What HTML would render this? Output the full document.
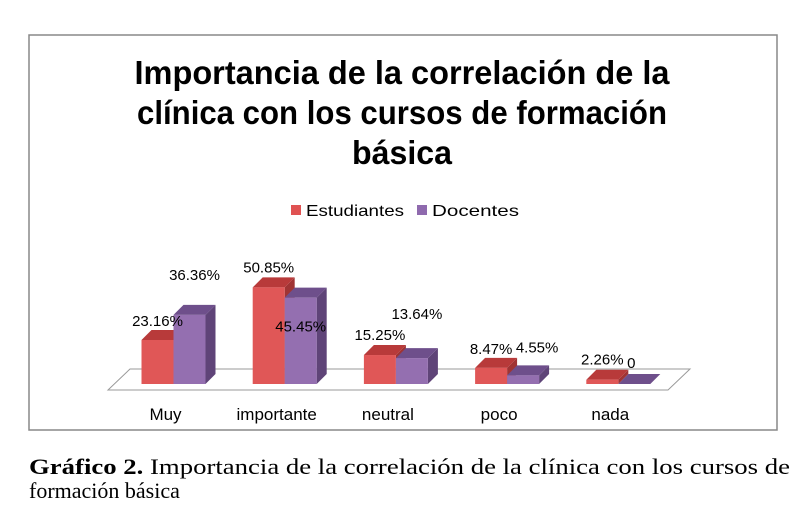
<!DOCTYPE html>
<html><head><meta charset="utf-8"><style>
body{margin:0;background:#fff;width:800px;height:518px;overflow:hidden}
svg{display:block}
</style></head><body>
<svg width="800" height="518" xmlns="http://www.w3.org/2000/svg">
<rect x="29" y="35" width="748" height="395" fill="#fff" stroke="#888" stroke-width="1.5"/>
<g font-family="Liberation Sans, sans-serif" font-weight="bold" font-size="33" fill="#000" text-anchor="middle">
<text x="402" y="84" textLength="535" lengthAdjust="spacingAndGlyphs">Importancia de la correlación de la</text>
<text x="402" y="124" textLength="530" lengthAdjust="spacingAndGlyphs">clínica con los cursos de formación</text>
<text x="402" y="164" textLength="100" lengthAdjust="spacingAndGlyphs">básica</text>
</g>
<g font-family="Liberation Sans, sans-serif" font-size="16" fill="#000">
<rect x="291" y="205" width="10" height="10" fill="#e05252"/>
<text x="306" y="216" textLength="98" lengthAdjust="spacingAndGlyphs">Estudiantes</text>
<rect x="417" y="205" width="10" height="10" fill="#8f6aae"/>
<text x="432" y="216" textLength="87" lengthAdjust="spacingAndGlyphs">Docentes</text>
</g>
<polygon points="130,369 690,369 668,390 108,390" fill="#fff" stroke="#999" stroke-width="1"/>
<g id="bars"></g>
<g id="labels" font-family="Liberation Sans, sans-serif" font-size="15" fill="#000"></g>
<g font-family="Liberation Serif, serif" font-size="22" fill="#000">
<text x="29" y="474" textLength="761" lengthAdjust="spacingAndGlyphs"><tspan font-weight="bold">Gráfico 2.</tspan> Importancia de la correlación de la clínica con los cursos de</text>
<text x="29" y="498">formación básica</text>
</g>
</svg>
<script>
const categories=["Muy","importante","neutral","poco","nada"];
const estudiantes=[23.16,50.85,15.25,8.47,2.26];
const docentes=[36.36,45.45,13.64,4.55,0];
const estudiantesLabels=["23.16%","50.85%","15.25%","8.47%","2.26%"];
const docentesLabels=["36.36%","45.45%","13.64%","4.55%","0"];
// label placement offsets (style only, relative to bar centre/top)
const redLabelDx=[0,0,0,0,0], redLabelDy=[-14,-15,-15,-14,-15];
const purpleLabelDx=[5,0,5,14,-3], purpleLabelDy=[-35,34,-39,-23,-16];
const NS="http://www.w3.org/2000/svg";
const baseY=384, scale=1.9, x0=141.5, step=111.2, bw=32, d=10;
function y(v){return baseY-v*scale;}
function gx(i){return x0+i*step;}
const bars=document.getElementById('bars'), labels=document.getElementById('labels');
function mk(tag,attrs){const e=document.createElementNS(NS,tag);for(const k in attrs)e.setAttribute(k,attrs[k]);return e;}
function bar(x,v,front,top,side,name){
  const g=document.createElementNS(NS,'g');
  
  
  const t=y(v);
  g.appendChild(mk('polygon',{points:`${x+bw},${t} ${x+bw+d},${t-d} ${x+bw+d},${baseY-d} ${x+bw},${baseY}`,fill:side}));
  g.appendChild(mk('polygon',{points:`${x},${t} ${x+d},${t-d} ${x+bw+d},${t-d} ${x+bw},${t}`,fill:top}));
  g.appendChild(mk('rect',{x:x,y:t,width:bw,height:baseY-t,fill:front}));
  bars.appendChild(g);
}
function label(x,yy,txt,name){
  const t=mk('text',{x:x,y:yy,'text-anchor':'middle'});
  t.textContent=txt;
  
  
  labels.appendChild(t);
}
categories.forEach((c,i)=>{
  const x=gx(i);
  bar(x,estudiantes[i],'#e05757','#b83a3a','#a03434','bar-estudiantes-'+c);
  bar(x+bw,docentes[i],'#946fb0','#6e4f8b','#5f4478','bar-docentes-'+c);
  label(x+bw/2+redLabelDx[i],y(estudiantes[i])+redLabelDy[i],estudiantesLabels[i],'value-label-estudiantes-'+c);
  label(x+bw*1.5+purpleLabelDx[i],y(docentes[i])+purpleLabelDy[i],docentesLabels[i],'value-label-docentes-'+c);
  const ct=mk('text',{x:x+bw-8,y:420,'text-anchor':'middle','font-size':'17'});
  ct.textContent=c;
  
  
  labels.appendChild(ct);
});
</script>
</body></html>
